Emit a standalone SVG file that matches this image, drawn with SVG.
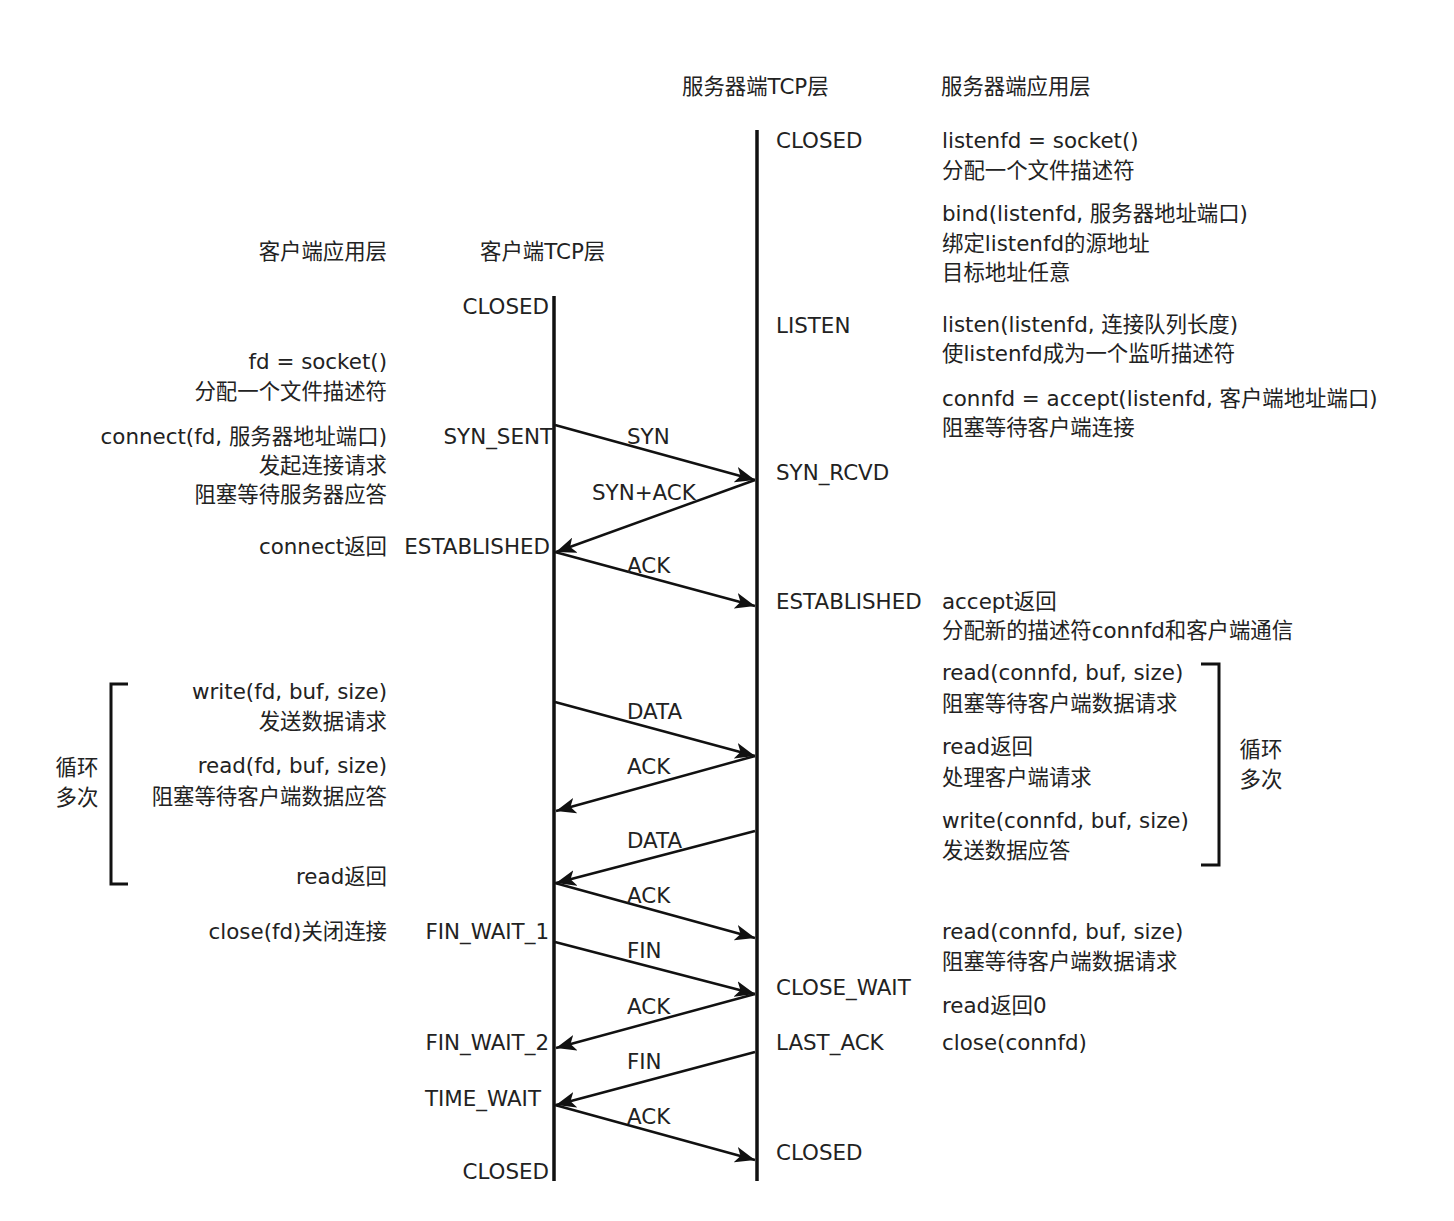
<svg xmlns="http://www.w3.org/2000/svg" width="1454" height="1221" viewBox="0 0 1454 1221">
<style>
text{font-family:"DejaVu Sans","Noto Sans CJK SC",sans-serif;font-size:21.4px;fill:#222}
.r{text-anchor:end}
.m{text-anchor:middle}
.life{stroke:#111;stroke-width:3.5;fill:none}
.msg{stroke:#111;stroke-width:2.5;fill:none;marker-end:url(#ah)}
.br{stroke:#111;stroke-width:3;fill:none}
</style>
<defs>
<marker id="ah" markerUnits="userSpaceOnUse" markerWidth="22" markerHeight="16" refX="20" refY="8" orient="auto">
<path d="M0,0 L20,8 L0,16 L5,8 Z" fill="#111"/>
</marker>
</defs>
<rect width="1454" height="1221" fill="#fff"/>

<g id="headers">
<text x="682" y="94">服务器端TCP层</text>
<text x="941" y="94">服务器端应用层</text>
<text x="387" y="259" class="r">客户端应用层</text>
<text x="480" y="259">客户端TCP层</text>
</g>

<g id="client-lifeline"><line class="life" x1="554" y1="296" x2="554" y2="1181"/></g>
<g id="server-lifeline"><line class="life" x1="757" y1="130" x2="757" y2="1181"/></g>

<g id="client-states">
<text x="549" y="314" class="r">CLOSED</text>
<text x="553" y="444" class="r">SYN_SENT</text>
<text x="550" y="554" class="r">ESTABLISHED</text>
<text x="549" y="939" class="r">FIN_WAIT_1</text>
<text x="549" y="1050" class="r">FIN_WAIT_2</text>
<text x="541" y="1106" class="r">TIME_WAIT</text>
<text x="549" y="1179" class="r">CLOSED</text>
</g>

<g id="server-states">
<text x="776" y="148">CLOSED</text>
<text x="776" y="333">LISTEN</text>
<text x="776" y="480">SYN_RCVD</text>
<text x="776" y="609">ESTABLISHED</text>
<text x="776" y="995">CLOSE_WAIT</text>
<text x="776" y="1050">LAST_ACK</text>
<text x="776" y="1160">CLOSED</text>
</g>

<g id="client-app">
<text x="387" y="369" class="r">fd = socket()</text>
<text x="387" y="399" class="r">分配一个文件描述符</text>
<text x="387" y="444" class="r">connect(fd, 服务器地址端口)</text>
<text x="387" y="473" class="r">发起连接请求</text>
<text x="387" y="502" class="r">阻塞等待服务器应答</text>
<text x="387" y="554" class="r">connect返回</text>
<text x="387" y="699" class="r">write(fd, buf, size)</text>
<text x="387" y="729" class="r">发送数据请求</text>
<text x="387" y="773" class="r">read(fd, buf, size)</text>
<text x="387" y="804" class="r">阻塞等待客户端数据应答</text>
<text x="387" y="884" class="r">read返回</text>
<text x="387" y="939" class="r">close(fd)关闭连接</text>
</g>

<g id="server-app">
<text x="942" y="148">listenfd = socket()</text>
<text x="942" y="178">分配一个文件描述符</text>
<text x="942" y="221">bind(listenfd, 服务器地址端口)</text>
<text x="942" y="251">绑定listenfd的源地址</text>
<text x="942" y="280">目标地址任意</text>
<text x="942" y="332">listen(listenfd, 连接队列长度)</text>
<text x="942" y="361">使listenfd成为一个监听描述符</text>
<text x="942" y="406">connfd = accept(listenfd, 客户端地址端口)</text>
<text x="942" y="435">阻塞等待客户端连接</text>
<text x="942" y="609">accept返回</text>
<text x="942" y="638">分配新的描述符connfd和客户端通信</text>
<text x="942" y="680">read(connfd, buf, size)</text>
<text x="942" y="711">阻塞等待客户端数据请求</text>
<text x="942" y="754">read返回</text>
<text x="942" y="785">处理客户端请求</text>
<text x="942" y="828">write(connfd, buf, size)</text>
<text x="942" y="858">发送数据应答</text>
<text x="942" y="939">read(connfd, buf, size)</text>
<text x="942" y="969">阻塞等待客户端数据请求</text>
<text x="942" y="1013">read返回0</text>
<text x="942" y="1050">close(connfd)</text>
</g>

<g id="loop-left">
<path class="br" d="M128,684 H111 V884 H128"/>
<text x="77" y="775" class="m">循环</text>
<text x="77" y="805" class="m">多次</text>
</g>
<g id="loop-right">
<path class="br" d="M1201,664 H1219 V865 H1201"/>
<text x="1261" y="757" class="m">循环</text>
<text x="1261" y="787" class="m">多次</text>
</g>

<g id="connectors">
<line class="msg" x1="555" y1="425" x2="755" y2="480"/>
<line class="msg" x1="755" y1="480" x2="556" y2="552"/>
<line class="msg" x1="555" y1="552" x2="755" y2="606"/>
<line class="msg" x1="555" y1="702" x2="755" y2="756"/>
<line class="msg" x1="755" y1="756" x2="556" y2="811"/>
<line class="msg" x1="755" y1="831" x2="556" y2="883"/>
<line class="msg" x1="555" y1="883" x2="755" y2="938"/>
<line class="msg" x1="555" y1="942" x2="755" y2="994"/>
<line class="msg" x1="755" y1="994" x2="556" y2="1048"/>
<line class="msg" x1="755" y1="1052" x2="556" y2="1105"/>
<line class="msg" x1="555" y1="1105" x2="755" y2="1160"/>
</g>

<g id="connector-labels">
<text x="627" y="444">SYN</text>
<text x="592" y="500">SYN+ACK</text>
<text x="627" y="573">ACK</text>
<text x="627" y="719">DATA</text>
<text x="627" y="774">ACK</text>
<text x="627" y="848">DATA</text>
<text x="627" y="903">ACK</text>
<text x="627" y="958">FIN</text>
<text x="627" y="1014">ACK</text>
<text x="627" y="1069">FIN</text>
<text x="627" y="1124">ACK</text>
</g>
</svg>
